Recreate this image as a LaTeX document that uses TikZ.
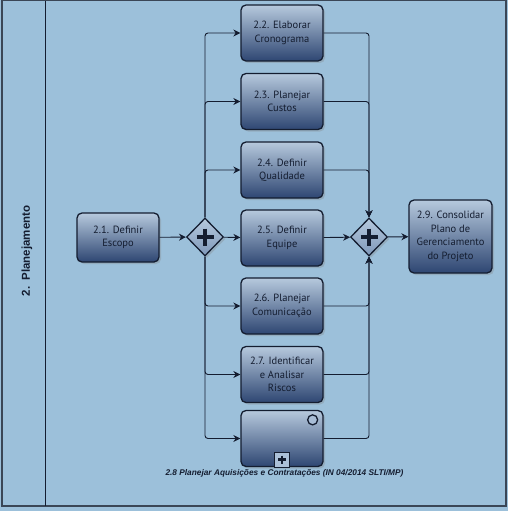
\documentclass[tikz,border=0pt]{standalone}
\usepackage{fontspec}
\setmainfont{PT Sans}
\newfontfamily\lanefont{Liberation Sans}
\usetikzlibrary{arrows.meta,shapes.geometric,shadows}
\definecolor{lanebg}{HTML}{9CC0DA}
\definecolor{frame}{HTML}{3A4656}
\definecolor{ink}{HTML}{141D30}
\definecolor{boxtop}{HTML}{B6C9DD}
\definecolor{boxmid}{HTML}{92ACCB}
\definecolor{boxbot}{HTML}{2E4672}
\tikzset{
    task/.style={draw=ink, line width=1.3pt, rounded corners=5pt,
                 minimum width=82pt, minimum height=56pt, inner sep=2pt,
                 align=center, text=ink,
                 font=\fontsize{10.5}{13.5}\selectfont,
                 top color=boxtop, middle color=boxmid, bottom color=boxbot,
                 drop shadow={shadow xshift=2pt, shadow yshift=-2pt, opacity=0.3}},
    gate/.style={diamond, draw=ink, line width=1.3pt,
                 minimum width=37pt, minimum height=38pt, inner sep=0pt,
                 top color=boxtop, bottom color=boxmid!80!boxbot,
                 drop shadow={shadow xshift=2pt, shadow yshift=-2pt, opacity=0.3}},
    gplus/.style={draw=ink, line width=4.2pt},
    flow/.style={-{Stealth[length=7pt, width=7pt]}, draw=ink, line width=0.9pt,
                 rounded corners=3pt},
}

\begin{document}
\begin{tikzpicture}[x=1pt, y=-1pt]

    % background and lane
    \fill[lanebg] (0,0) rectangle (508,511);
    \useasboundingbox (0,0) rectangle (508,511);
    \draw[frame, line width=1.2pt] (2,0.6) rectangle (506,506);
    \draw[ink, line width=1pt] (45,0.6) -- (45,506);
    \node[rotate=90, text=ink, font=\lanefont\bfseries\fontsize{11.5}{13}\selectfont]
        (lane) at (27,251) {2.\ \ Planejamento};

    % tasks
    \node[task, minimum height=49pt] (escopo) at (118,237.5) {2.1. Definir\\Escopo};
    \node[task] (crono) at (282,33) {2.2. Elaborar\\Cronograma};
    \node[task] (custos) at (282,101.5) {2.3. Planejar\\Custos};
    \node[task] (qualid) at (282,170) {2.4. Definir\\Qualidade};
    \node[task] (equipe) at (282,238) {2.5. Definir\\Equipe};
    \node[task] (comunic) at (282,306) {2.6. Planejar\\Comunicação};
    \node[task] (riscos) at (282,374.5) {2.7. Identificar\\e Analisar\\Riscos};
    \node[task] (aquis) at (282,438.5) {};
    \node[task, minimum width=83pt, minimum height=73pt] (consol) at (450.5,236.5)
        {2.9. Consolidar\\Plano de\\Gerenciamento\\do Projeto};
    \node[text=ink, font=\lanefont\bfseries\itshape\fontsize{8.3}{9}\selectfont]
        (caption) at (284.5,473.5)
        {2.8 Planejar Aquisições e Contratações (IN 04/2014 SLTI/MP)};

    % subprocess markers
    \draw[ink, line width=1.3pt, fill=boxtop!60!boxmid] (aquis.north east) ++(-11,10) circle (5pt);
    \draw[ink, line width=1.3pt, fill=boxtop!70!boxmid] (aquis.south) ++(-7.5,0) rectangle ++(15,-15);
    \draw[draw=ink, line width=2.6pt] (aquis.south) ++(-4,-7.5) -- ++(8,0)
        (aquis.south) ++(0,-11.5) -- ++(0,8);

    % gateways
    \node[gate] (split) at (205,237) {};
    \node[gate] (join) at (369,237) {};
    \foreach \g in {split,join} {
        \draw[gplus] (\g.center) ++(-8.5,0) -- ++(17,0)
                     (\g.center) ++(0,-8.5) -- ++(0,17);
    }

    % flows
    \draw[flow] (escopo) -- (split);
    \draw[flow] (split) -- (equipe);
    \foreach \t in {crono,custos,qualid} {
        \draw[flow] (split.north) |- (\t.west);
        \draw[flow] (\t.east) -| (join.north);
    }
    \foreach \t in {comunic,riscos,aquis} {
        \draw[flow] (split.south) |- (\t.west);
        \draw[flow] (\t.east) -| (join.south);
    }
    \draw[flow] (equipe) -- (join);
    \draw[flow] (join) -- (consol);

\end{tikzpicture}
\end{document}
